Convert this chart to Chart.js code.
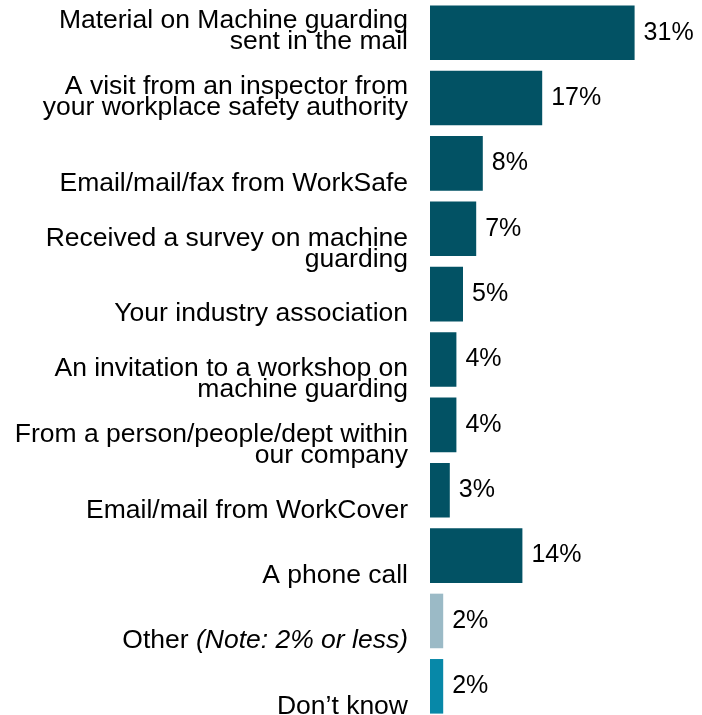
<!DOCTYPE html>
<html>
<head>
<meta charset="utf-8">
<script src="https://cdn.jsdelivr.net/npm/chart.js@4/dist/chart.umd.min.js"></script>
<style>
  html, body { margin: 0; padding: 0; background: #fff; overflow: hidden; }
  #wrap { width: 702px; height: 719px; position: relative; }
</style>
</head>
<body>
<div id="wrap"><canvas id="chart"></canvas></div>
<script>
// survey answers, top to bottom
const categories = [
    ["Material on Machine guarding", "sent in the mail", "", ""],
    ["A visit from an inspector from", "your workplace safety authority", "", ""],
    "Email/mail/fax from WorkSafe",
    ["Received a survey on machine", "guarding"],
    "Your industry association",
    ["An invitation to a workshop on", "machine guarding"],
    ["From a person/people/dept within", "our company"],
    "Email/mail from WorkCover",
    "A phone call",
    "Other (Note: 2% or less)",
    "Don\u2019t know",
];
const values = [31, 17, 8, 7, 5, 4, 4, 3, 14, 2, 2];
const barColors = [
    "#025264", "#025264", "#025264", "#025264", "#025264", "#025264",
    "#025264", "#025264", "#025264", "#9bbac6", "#0788a8",
];

const FONT = "'Liberation Sans', Arial, sans-serif";
const LABEL_SIZE = 26.5;
const OTHER_INDEX = 9;
const LABEL_SHIFT = 20;
const LABEL_PAD = 22;

// percent labels at the end of each bar
const valueLabels = {
    id: "valueLabels",
    afterDatasetsDraw(chart) {
        const ctx = chart.ctx;
        const meta = chart.getDatasetMeta(0);
        ctx.save();
        ctx.font = "25px " + FONT;
        ctx.fillStyle = "#000";
        ctx.textAlign = "left";
        ctx.textBaseline = "middle";
        meta.data.forEach((bar, i) => {
            ctx.fillText(values[i] + "%", bar.x + 9, bar.y);
        });
        ctx.restore();
    },
};

// "Other" label has an italic note, so it is drawn by hand
const otherLabel = {
    id: "otherLabel",
    afterDraw(chart) {
        const ctx = chart.ctx;
        const y = chart.scales.y.getPixelForValue(OTHER_INDEX) + LABEL_SHIFT;
        const right = chart.chartArea.left - LABEL_PAD;
        const note = "(Note: 2% or less)";
        ctx.save();
        ctx.fillStyle = "#000";
        ctx.textBaseline = "middle";
        ctx.textAlign = "right";
        ctx.font = "italic " + LABEL_SIZE + "px " + FONT;
        const noteWidth = ctx.measureText(note).width;
        ctx.fillText(note, right, y);
        ctx.font = LABEL_SIZE + "px " + FONT;
        ctx.fillText("Other ", right - noteWidth, y);
        ctx.restore();
    },
};

new Chart(document.getElementById("chart"), {
    type: "bar",
    data: {
        labels: categories,
        datasets: [{
            data: values,
            backgroundColor: barColors,
            borderWidth: 0,
            barPercentage: 1,
            categoryPercentage: 0.835,
        }],
    },
    options: {
        indexAxis: "y",
        responsive: true,
        maintainAspectRatio: false,
        animation: false,
        layout: { padding: { left: 0, right: 8, top: 0, bottom: 0 } },
        plugins: {
            legend: { display: false },
            tooltip: { enabled: false },
        },
        scales: {
            x: {
                display: false,
                min: 0,
                max: 40,
            },
            y: {
                grid: { display: false, drawTicks: false },
                border: { display: false },
                afterFit(scale) {
                    scale.width = 430;
                    // let the bars use the full height; labels may hang over
                    scale.paddingTop = 0;
                    scale.paddingBottom = 0;
                },
                ticks: {
                    padding: LABEL_PAD,
                    labelOffset: LABEL_SHIFT,
                    autoSkip: false,
                    color: (c) => (c.index === OTHER_INDEX ? "rgba(0,0,0,0)" : "#000"),
                    font: { family: FONT, size: LABEL_SIZE, lineHeight: "21px" },
                },
            },
        },
    },
    plugins: [valueLabels, otherLabel],
});
</script>
</body>
</html>
